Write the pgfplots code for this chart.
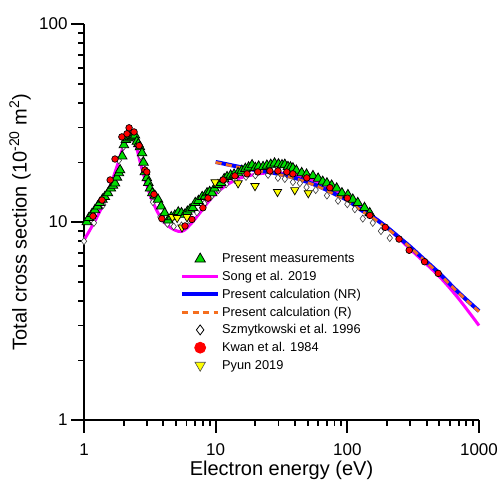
\documentclass[border=0pt]{standalone}
\usepackage{fontspec}
\setmainfont{Liberation Sans}
\usepackage{pgfplots}
\pgfplotsset{compat=1.18}
\definecolor{mygreen}{RGB}{0,220,0}
\definecolor{myorange}{RGB}{245,110,30}
\definecolor{mymagenta}{RGB}{255,0,255}
\definecolor{myblue}{RGB}{0,0,255}
\definecolor{myred}{RGB}{255,0,0}
\definecolor{myyellow}{RGB}{255,255,0}

\pgfplotstableread{
x y
1.05 10.0
1.09 10.5
1.15 11.0
1.21 11.5
1.27 12.0
1.32 12.5
1.38 13.0
1.44 13.4
1.52 14.0
1.6 14.8
1.66 15.3
1.72 15.7
1.78 16.8
1.84 17.7
1.88 18.3
1.95 21.5
2.01 24.5
2.08 26.0
2.15 26.5
2.23 26.8
2.3 26.9
2.37 27.2
2.44 27.4
2.52 25.5
2.59 24.8
2.66 23.9
2.76 22.3
2.83 20.0
2.9 17.9
3.0 16.7
3.08 15.8
3.17 14.8
3.3 14.0
3.45 13.6
3.65 13.0
3.85 12.0
4.1 11.1
4.35 10.2
4.6 10.6
4.9 10.8
5.2 11.2
5.5 11.1
5.8 10.9
6.1 11.3
6.4 11.6
6.7 11.8
7.0 12.5
7.4 12.8
7.9 13.4
8.3 13.5
8.6 14.0
9.0 14.2
9.4 14.0
9.8 14.8
10.4 15.4
11.0 15.8
11.6 16.5
12.2 16.9
13.0 17.2
13.8 17.4
14.8 17.7
15.8 18.2
16.8 18.6
17.8 18.9
18.9 19.4
20.0 18.8
21.2 19.1
22.9 19.0
24.5 19.3
26.2 19.5
28.0 19.8
30.0 19.6
31.9 19.4
33.5 19.5
35.4 19.0
37.0 18.9
38.6 18.7
41.0 18.2
45.0 17.7
49.0 17.4
54.8 17.1
60.0 16.6
65.0 16.0
70.0 15.7
76.0 15.3
83.0 14.8
91.0 14.0
101 13.7
110 13.0
120 12.5
135 11.8
148 11.1
}\measured

\pgfplotstableread{
x y
1.0 8.1
1.2 10.0
1.4 12.3
1.6 15.5
1.8 19.5
2.0 24.5
2.15 28.5
2.25 29.0
2.35 27.5
2.5 24.0
2.7 19.5
2.9 16.5
3.2 13.5
3.6 11.3
4.0 10.1
4.5 9.4
5.0 9.05
5.4 8.95
5.8 9.1
6.5 9.8
7.5 11.0
8.5 12.3
10 13.9
12 15.3
15 16.6
20 17.4
25 17.7
30 17.7
40 17.3
50 16.6
70 15.2
100 13.1
150 10.9
200 9.4
300 7.3
500 5.3
700 4.1
1000 3.0
}\song

\pgfplotstableread{
x y
10 20.1
12 19.6
15 19.0
20 18.3
25 17.9
30 17.5
40 16.7
50 15.9
60 15.2
70 14.5
85 13.6
100 12.9
130 11.4
150 10.8
200 9.4
250 8.3
300 7.5
400 6.3
500 5.5
700 4.4
1000 3.55
}\calcNR

\pgfplotstableread{
x y
10 20.0
12 19.5
15 18.9
20 18.2
25 17.8
30 17.4
40 16.6
50 15.8
60 15.1
70 14.4
85 13.5
100 12.8
130 11.3
150 10.7
200 9.3
250 8.25
300 7.45
400 6.25
500 5.45
700 4.38
1000 3.53
}\calcR

\pgfplotstableread{
x y
1.0 8.0
1.19 9.9
1.4 12.2
1.6 15.0
1.84 20.5
2.0 24.0
2.24 27.5
2.45 26.0
2.7 21.5
3.0 16.5
3.34 12.6
3.8 10.6
4.3 9.8
4.8 9.5
5.5 9.6
6.3 10.2
7.2 11.2
8.2 12.4
9.2 13.4
10.5 14.5
12 15.5
14 16.3
17 16.9
20 17.2
25 17.3
29.7 16.7
33.5 16.5
38.6 15.9
43.6 15.7
49 15.0
57.5 14.5
70 13.6
85 12.8
100 12.3
114 11.6
131 10.4
156 9.9
180 9.0
210 8.3
}\szmyt

\pgfplotstableread{
x y
1.17 10.7
1.37 12.9
1.58 16.3
1.72 20.8
1.94 26.9
2.12 27.9
2.2 29.9
2.4 28.5
2.62 24.3
2.9 18.3
3.0 17.9
3.4 13.8
3.9 10.4
5.85 9.55
6.6 10.3
8.0 11.8
8.75 13.2
11.4 16.3
14 17.1
17.3 17.5
20.9 17.9
25.8 18.1
29.7 18.1
34.7 17.9
38.6 17.5
49.2 16.7
73.7 14.9
100 13.2
148 10.8
194 9.4
247 8.2
295 7.2
386 6.3
490 5.5
}\kwan

\pgfplotstableread{
x y
4.7 10.6
5.1 10.5
5.55 9.4
6.05 10.6
9.9 15.9
14.8 15.7
19.9 15.2
29.5 14.2
39.9 14.5
50.5 14.0
}\pyun

\begin{document}
\begin{tikzpicture}
\useasboundingbox (-84pt,-62pt) rectangle (416pt,420pt);
\begin{axis}[
  at={(0,0)}, anchor=south west,
  scale only axis, width=395pt, height=396pt,
  xmode=log, ymode=log,
  xmin=1, xmax=1000, ymin=1, ymax=100,
  axis x line=bottom, axis y line=left,
  axis line style={-, line width=2pt, black},
  tick align=outside,
  major tick length=13pt, minor tick length=6pt,
  tick style={line width=1.8pt, black},
  xtick={1,10,100,1000}, xticklabels={1,10,100,1000},
  ytick={1,10,100}, yticklabels={1,10,100},
  minor xtick={2,3,4,5,6,7,8,9,20,30,40,50,60,70,80,90,200,300,400,500,600,700,800,900},
  minor ytick={2,3,4,5,6,7,8,9,20,30,40,50,60,70,80,90},
  tick label style={font=\fontsize{17}{20}\selectfont},
  xticklabel style={yshift=-7pt},
  label style={font=\fontsize{20}{24}\selectfont},
  xlabel={Electron energy (eV)},
  ylabel={Total cross section (10\textsuperscript{-20} m\textsuperscript{2})},
  xlabel style={at={(axis description cs:0.5,-0.126)}, anchor=center},
  ylabel style={at={(axis description cs:-0.162,0.5)}, anchor=center},
  clip=false,
  legend cell align=left,
  legend style={draw=none, fill=none, at={(axis description cs:0.243,0.425)}, anchor=north west,
    font=\fontsize{12.8}{15}\selectfont, row sep=3pt, inner sep=0pt},
]
\addlegendimage{legend image code/.code={\path[draw=none] (0pt,0pt) -- (36pt,0pt);\path[draw=black, fill=mygreen, line width=0.8pt, mark=triangle*, mark size=6pt] plot coordinates {(18pt,0pt)};}}
\addlegendentry{Present measurements}
\addlegendimage{legend image code/.code={\draw[mymagenta, line width=3pt] (0pt,0pt) -- (36pt,0pt);}}
\addlegendentry{Song et al. 2019}
\addlegendimage{legend image code/.code={\draw[myblue, line width=4pt] (0pt,0pt) -- (36pt,0pt);}}
\addlegendentry{Present calculation (NR)}
\addlegendimage{legend image code/.code={\draw[myorange, line width=2.8pt, dash pattern=on 6pt off 4.5pt] (0pt,0pt) -- (36pt,0pt);}}
\addlegendentry{Present calculation (R)}
\addlegendimage{legend image code/.code={\path[draw=none] (0pt,0pt) -- (36pt,0pt);\path[draw=black, fill=white, line width=0.8pt, mark=diamond*, mark size=5pt] plot coordinates {(18pt,0pt)};}}
\addlegendentry{Szmytkowski et al. 1996}
\addlegendimage{legend image code/.code={\path[draw=none] (0pt,0pt) -- (36pt,0pt);\path[draw=myred, fill=myred, line width=0.8pt, mark=*, mark size=5.5pt] plot coordinates {(18pt,0pt)};}}
\addlegendentry{Kwan et al. 1984}
\addlegendimage{legend image code/.code={\path[draw=none] (0pt,0pt) -- (36pt,0pt);\path[draw=black!70, fill=myyellow, line width=0.6pt, mark=triangle*, mark size=6pt, mark options={rotate=180}] plot coordinates {(18pt,0pt)};}}
\addlegendentry{Pyun 2019}

\addplot[forget plot, only marks, mark=diamond*, mark size=3.6pt, mark options={draw=black!75, fill=white, line width=0.6pt}] table {\szmyt};
\addplot[forget plot, mymagenta, line width=3pt, smooth, no marks] table {\song};
\addplot[forget plot, myblue, line width=4pt, smooth, no marks] table {\calcNR};
\addplot[forget plot, myorange, line width=2.8pt, dash pattern=on 6pt off 4.5pt, smooth, no marks] table {\calcR};
\addplot[forget plot, only marks, mark=triangle*, mark size=5.5pt, mark options={draw=black, fill=mygreen, line width=0.8pt}] table {\measured};
\addplot[forget plot, only marks, mark=triangle*, mark size=4.8pt, mark options={draw=black, fill=myyellow, line width=0.7pt, rotate=180}] table {\pyun};
\addplot[forget plot, only marks, mark=*, mark size=3.3pt, mark options={draw=black, fill=myred, line width=0.7pt}] table {\kwan};
\end{axis}
\end{tikzpicture}
\end{document}
